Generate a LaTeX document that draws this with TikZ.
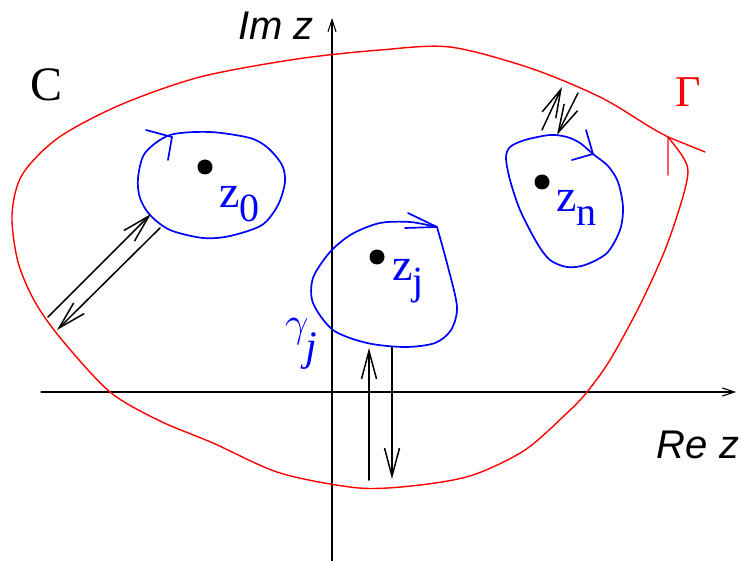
\RequirePackage{fix-cm}
\documentclass[tikz,border=0pt]{standalone}
\usepackage{fontspec}
\setmainfont{Liberation Serif}
\newfontfamily\axisfont{Liberation Sans}
\usepackage{tikz}
\usetikzlibrary{arrows.meta}

\newcommand\zsub[1]{z\raisebox{-14pt}{\fontsize{40}{40}\selectfont #1}}

\begin{document}
\begin{tikzpicture}[
		x=1pt, y=-1pt,
		line cap=round, line join=round,
		>={Straight Barb[length=28pt, width=15pt]},
		axis/.style={line width=1.1pt, -{Straight Barb[length=12pt, width=8pt]}},
		contour/.style={red, line width=1.4pt},
		hole/.style={blue, line width=1.7pt},
		cut/.style={->, line width=1.5pt},
		pole/.style={circle, fill=black, inner sep=0pt, minimum size=15pt},
		axislabel/.style={inner sep=0pt, anchor=base, font=\axisfont\itshape\fontsize{40}{40}\selectfont},
		zlabel/.style={blue, inner sep=0pt, anchor=base west, font=\fontsize{46}{46}\selectfont}
	]
	\useasboundingbox (0,0) rectangle (741,561);

	\coordinate (xstart) at (41,392);
	\coordinate (xend) at (736,392);
	\coordinate (ystart) at (332,561);
	\coordinate (yend) at (332,18);
	\draw[axis] (xstart) -- (xend);
	\draw[axis] (ystart) -- (yend);

	\node[axislabel] (imlabel) at (276,40) {Im z};
	\node[axislabel] (relabel) at (698,458) {Re z};
	\node[inner sep=0pt, anchor=base, font=\fontsize{48}{48}\selectfont]
		(clabel) at (47,101) {C};
	\node[red, inner sep=0pt, anchor=base, font=\fontsize{44}{44}\selectfont]
		(gammalabel) at (688,107) {Γ};

	\draw[contour] plot[smooth] coordinates {
		(668,137) (683,157) (688,172) (682,200) (665,250) (640,305) (610,360)
		(587,392) (567,413) (525,450) (473,475) (420,485) (359,488)
		(280,473) (213,443) (160,421) (110,392) (62,340) (35,302)
		(18,262) (12,215) (22,175) (58,138) (120,105) (200,77) (297,59)
		(380,50) (450,47) (530,68) (600,97) (650,127) (668,137)};
	\draw[contour] (668,175) -- (668,137) -- (705,152);

	\draw[hole] plot[smooth cycle] coordinates {
		(170,135) (210,132) (250,138) (268,148) (282,165) (285,182) (278,205)
		(262,225) (230,236) (203,238) (170,230) (150,215) (140,198) (138,178)
		(145,153)};
	\draw[hole] (146,130) -- (172,137) -- (168,160);

	\draw[hole] plot[smooth] coordinates {
		(437,227) (448,267) (457,307) (451,330) (435,343) (405,347) (367,343)
		(333,330) (313,303) (313,278) (330,252) (352,234) (380,223) (410,222)
		(437,227)};
	\draw[hole] (408,213) -- (437,227) -- (405,228);

	\draw[hole] plot[smooth cycle] coordinates {
		(550,135) (567,137) (580,143) (593,154) (608,166) (618,182) (623,207)
		(620,230) (607,253) (585,265) (567,267) (550,260) (537,243) (520,210)
		(510,180) (506,158) (510,147) (525,140)};
	\draw[hole] (586,130) -- (593,154) -- (572,160);

	\node[pole] (p0) at (205,167) {};
	\node[pole] (pj) at (377,257) {};
	\node[pole] (pn) at (542,182) {};

	\node[zlabel] (l0) at (219,208) {\zsub{0}};
	\node[zlabel] (lj) at (392,280) {\zsub{j}};
	\node[zlabel] (ln) at (556,212) {\zsub{n}};
	\node[blue, inner sep=0pt, anchor=base west, font=\fontsize{42}{42}\selectfont]
		(gammaj) at (285,336) {$\gamma$\kern-3pt\raisebox{-24pt}{\itshape j}};

	\coordinate (a1s) at (48,317);
	\coordinate (a1e) at (151,214);
	\coordinate (a2s) at (160,228);
	\coordinate (a2e) at (57,330);
	\draw[cut] (a1s) -- (a1e);
	\draw[cut] (a2s) -- (a2e);

	\coordinate (b1s) at (369,480);
	\coordinate (b1e) at (369,348);
	\coordinate (b2s) at (392,347);
	\coordinate (b2e) at (392,479);
	\draw[cut] (b1s) -- (b1e);
	\draw[cut] (b2s) -- (b2e);

	\coordinate (c1s) at (542,130);
	\coordinate (c1e) at (562,87);
	\coordinate (c2s) at (578,93);
	\coordinate (c2e) at (557,135);
	\draw[cut] (c1s) -- (c1e);
	\draw[cut] (c2s) -- (c2e);
\end{tikzpicture}
\end{document}
